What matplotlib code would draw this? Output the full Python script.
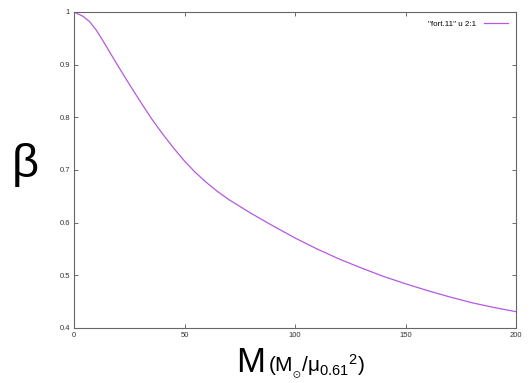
import matplotlib
matplotlib.use("Agg")
import matplotlib.pyplot as plt

# mass (in M_sun / mu^2) and radiation-pressure parameter beta
mass = [0, 4, 7, 10, 13, 16, 20, 25, 30, 35, 40, 45, 50, 55, 60, 65, 70, 75,
        80, 90, 100, 110, 120, 130, 140, 150, 160, 170, 180, 190, 200]
beta = [1.000, 0.992, 0.982, 0.966, 0.946, 0.925, 0.897, 0.863, 0.830, 0.798,
        0.769, 0.742, 0.717, 0.695, 0.676, 0.659, 0.644, 0.631,
        0.618, 0.594, 0.571, 0.550, 0.531, 0.514, 0.498, 0.484, 0.471,
        0.459, 0.448, 0.439, 0.431]

xticks = [0, 50, 100, 150, 200]
yticks = [0.4, 0.5, 0.6, 0.7, 0.8, 0.9, 1.0]
ytick_labels = ["0.4", "0.5", "0.6", "0.7", "0.8", "0.9", "1"]
legend_label = '"fort.11" u 2:1'

plt.rcParams["font.family"] = ["Liberation Sans", "DejaVu Sans"]
plt.rcParams["mathtext.fontset"] = "custom"
plt.rcParams["mathtext.rm"] = "Liberation Sans"

W, H = 531, 383
fig = plt.figure(figsize=(W / 100, H / 100), dpi=100)
ax = fig.add_axes([74 / W, 1 - 328 / H, (516 - 74) / W, (328 - 12) / H])

ax.plot(mass, beta, color="#b658e0", lw=0.9, label=legend_label)

ax.set_xlim(0, 200)
ax.set_ylim(0.4, 1.0)
ax.set_xticks(xticks)
ax.set_yticks(yticks)
ax.set_yticklabels(ytick_labels)
ax.tick_params(direction="in", length=3, width=0.6, labelsize=5.5,
               colors="#555555", labelcolor="#333333", top=True, right=True,
               pad=3)
for sp in ax.spines.values():
    sp.set_color("#666666")
    sp.set_linewidth(0.8)

leg = ax.legend(loc="upper right", frameon=False, fontsize=5.8, markerfirst=False,
                handlelength=3.0, handletextpad=0.9, borderaxespad=0.6)

fig.text(12 / W, 1 - 165 / H, "β", fontsize=34, ha="left", va="center")
fig.text(236 / W, 1 - 372 / H, "M", fontsize=25, ha="left", va="baseline")
fig.text(268 / W, 1 - 372 / H, r"($\mathregular{M_{_{\odot}}/\mu_{0.61}{}^{2}}$)",
         fontsize=15, ha="left", va="baseline")

fig.savefig("out.png", dpi=100, facecolor="white")
